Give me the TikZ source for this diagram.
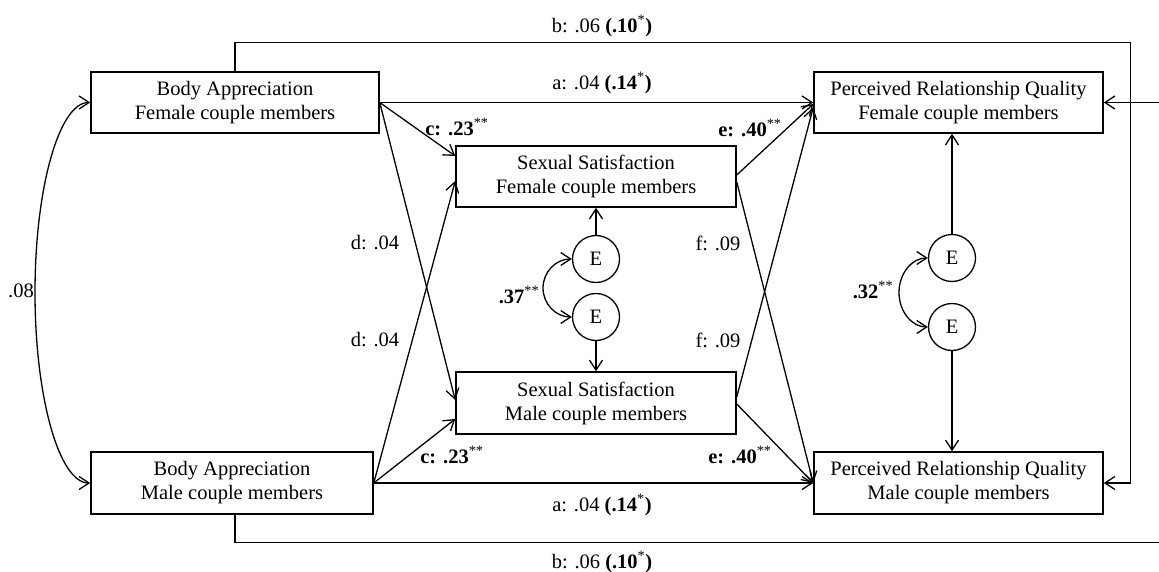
\documentclass[tikz,border=0pt]{standalone}
\usepackage{fontspec}
\setmainfont{Liberation Serif}
\usetikzlibrary{arrows.meta}
\begin{document}
\begin{tikzpicture}[x=1pt,y=-1pt, line width=1.3pt,
 box/.style={draw, line width=1.5pt, align=center, inner sep=0pt, font=\fontsize{20.5}{24}\selectfont},
 ebox/.style={draw, circle, line width=1.3pt, minimum size=47pt, inner sep=0pt, font=\fontsize{20.5}{24}\selectfont},
 lbl/.style={inner sep=0pt, font=\fontsize{20.5}{24}\selectfont},
 tip/.tip={Straight Barb[length=10pt,width=13pt]},
 arr/.style={-tip},
 darr/.style={tip-tip}]
\useasboundingbox (0,0) rectangle (1159,572);
\clip (0,0) rectangle (1159,572);

% boxes
\node[box, minimum width=288pt, minimum height=61pt] (BAF) at (235,102.5) {Body Appreciation\\Female couple members};
\node[box, minimum width=282pt, minimum height=62pt] (BAM) at (232,483) {Body Appreciation\\Male couple members};
\node[box, minimum width=280pt, minimum height=61pt] (SSF) at (596,176.5) {Sexual Satisfaction\\Female couple members};
\node[box, minimum width=280pt, minimum height=62pt] (SSM) at (596,403) {Sexual Satisfaction\\Male couple members};
\node[box, minimum width=289pt, minimum height=61pt] (PRQF) at (958.5,102.5) {Perceived Relationship Quality\\Female couple members};
\node[box, minimum width=289pt, minimum height=62pt] (PRQM) at (958.5,483) {Perceived Relationship Quality\\Male couple members};

% error terms
\node[ebox] (E1) at (596,259) {E};
\node[ebox] (E2) at (596,317) {E};
\node[ebox] (E3) at (952,258) {E};
\node[ebox] (E4) at (952,327) {E};

% helper coordinates
\coordinate (tr) at (1130.5,42.7);
\coordinate (br) at (1163,542.7);

% a paths
\draw[arr] (BAF.east) -- (PRQF.west);
\draw[arr] (BAM.east) -- (PRQM.west);
% c paths
\draw[arr] (BAF.east) -- ([yshift=20.5pt]SSF.west);
\draw[arr] (BAM.east) -- ([yshift=-16pt]SSM.west);
% d paths
\draw[arr] (BAF.east) -- ([yshift=3pt]SSM.west);
\draw[arr] (BAM.east) -- ([yshift=-4.5pt]SSF.west);
% e paths
\draw[arr] ([yshift=1.5pt]SSF.east) -- ([yshift=-1.5pt]PRQF.west);
\draw[arr] ([yshift=-1pt]SSM.east) -- (PRQM.west);
% f paths
\draw[arr] ([yshift=-5.5pt]SSF.east) -- (PRQM.west);
\draw[arr] ([yshift=6pt]SSM.east) -- ([yshift=-5pt]PRQF.west);
% b paths
\draw[arr] (BAF.north) |- (tr) |- (PRQM.east);
\draw[arr] ([xshift=3pt]BAM.south) |- (br) |- (PRQF.east);

% error arrows
\draw[arr] (E1.north) -- (SSF.south);
\draw[arr] (E2.south) -- (SSM.north);
\draw[arr] (E3.north) -- (E3 |- PRQF.south);
\draw[arr] (E4.south) -- (E4 |- PRQM.north);

% covariances
\draw[darr] (BAF.west) .. controls +(-31,0) and +(0,-105) .. (35,292.5) .. controls +(0,105) and +(-31,0) .. (BAM.west);
\draw[darr] (E1.west) .. controls +(-16,0) and +(0,-16) .. (543,288) .. controls +(0,16) and +(-16,0) .. (E2.west);
\draw[darr] (E3.west) .. controls +(-16,0) and +(0,-19) .. (899,292.5) .. controls +(0,19) and +(-16,0) .. (E4.west);

% labels
\node[lbl] (lbt) at (602,26) {b: .06 \textbf{(.10}\textsuperscript{*}\textbf{)}};
\node[lbl] (lat) at (602,83) {a: .04 \textbf{(.14}\textsuperscript{*}\textbf{)}};
\node[lbl] (lab) at (602,505) {a: .04 \textbf{(.14}\textsuperscript{*}\textbf{)}};
\node[lbl] (lbb) at (602,562) {b: .06 \textbf{(.10}\textsuperscript{*}\textbf{)}};
\node[lbl] (lct) at (457,127) {\textbf{c: .23}\textsuperscript{**}};
\node[lbl] (lcb) at (452,455) {\textbf{c: .23}\textsuperscript{**}};
\node[lbl] (let) at (750,128) {\textbf{e: .40}\textsuperscript{**}};
\node[lbl] (leb) at (740,455) {\textbf{e: .40}\textsuperscript{**}};
\node[lbl] (ldt) at (375,243) {d: .04};
\node[lbl] (ldb) at (375,340) {d: .04};
\node[lbl] (lft) at (718,243) {f: .09};
\node[lbl] (lfb) at (718,340) {f: .09};
\node[lbl] (l08) at (21,291) {.08};
\node[lbl] (l37) at (519,295) {\textbf{.37}\textsuperscript{**}};
\node[lbl] (l32) at (873,290) {\textbf{.32}\textsuperscript{**}};
\end{tikzpicture}
\end{document}
